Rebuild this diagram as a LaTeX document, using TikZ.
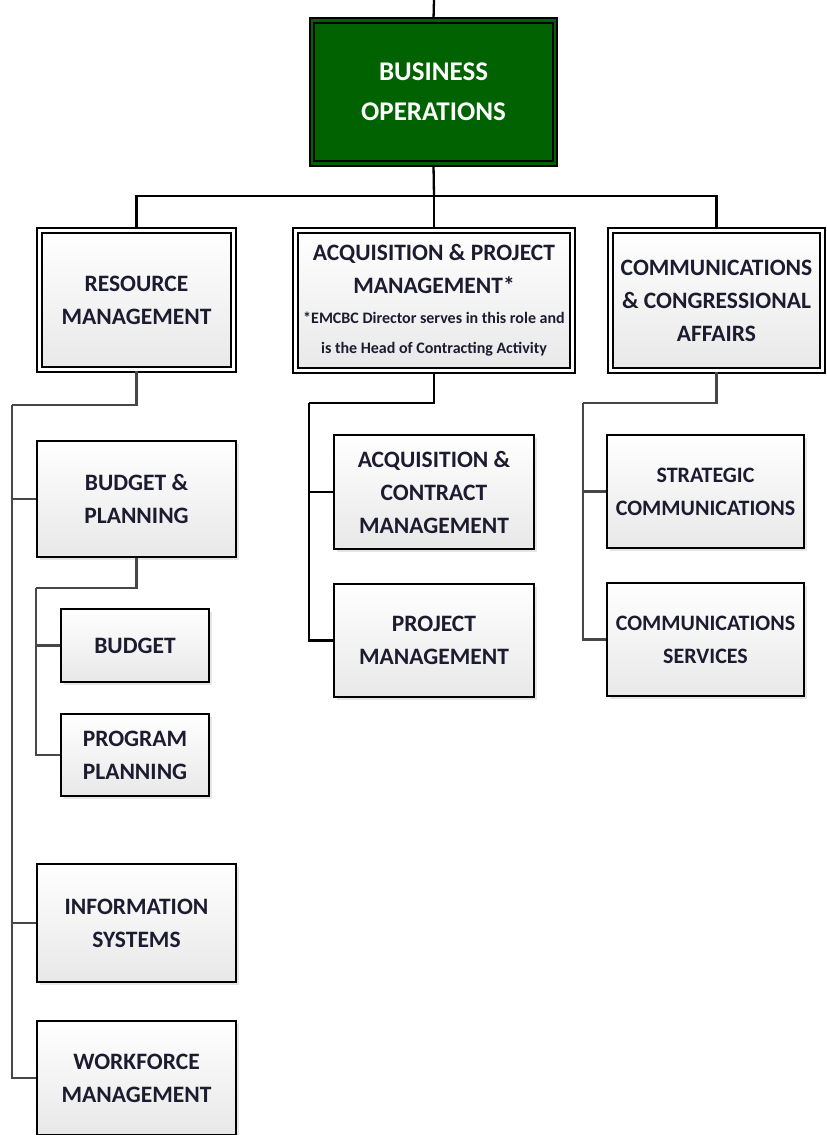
\documentclass[tikz,border=0pt]{standalone}
\usepackage{fontspec}
\setmainfont{Carlito}
\usetikzlibrary{shadows}
\definecolor{bizgreen}{RGB}{0,98,0}
\definecolor{boxtext}{RGB}{28,28,48}
\begin{document}
\begin{tikzpicture}[x=1pt,y=-1pt,
  box/.style={draw=black,line width=1.8pt,top color=white,bottom color=black!9,
    text=boxtext,align=flush center,inner sep=0pt,
    font=\bfseries\fontsize{23.5}{33}\selectfont,
    drop shadow={shadow xshift=3pt,shadow yshift=-3pt,opacity=.2}},
  unitbox/.style={box,line width=2.2pt,double=white,double distance=2.2pt},
  headbox/.style={unitbox,double=bizgreen,top color=bizgreen,bottom color=bizgreen,
    text=white,font=\bfseries\fontsize{27}{40}\selectfont},
  link/.style={draw=black,line width=2.3pt},
  sublink/.style={draw=black!72,line width=2.3pt}]
\useasboundingbox (0,0) rectangle (827,1135);
\clip (0,0) rectangle (827,1135);
% top of the chart
\node[headbox,minimum width=243pt,minimum height=143pt,text width=236pt] (bo) at (433.5,92) {BUSINESS\\OPERATIONS};
\node[unitbox,minimum width=194pt,minimum height=139pt,text width=190pt] (rm) at (136.5,300) {RESOURCE\\MANAGEMENT};
\node[unitbox,minimum width=277pt,minimum height=140pt,text width=274pt] (apm) at (434,300.5)
  {{\fontsize{23.5}{33}\selectfont ACQUISITION \& PROJECT\par MANAGEMENT*\par}%
   {\fontsize{16}{30}\selectfont *EMCBC Director serves in this role and\par is the Head of Contracting Activity\par}};
\node[unitbox,minimum width=212pt,minimum height=140pt,text width=210pt] (cca) at (716.5,300.5) {COMMUNICATIONS\\\& CONGRESSIONAL\\AFFAIRS};
% resource management units
\node[box,minimum width=199pt,minimum height=116pt,text width=197pt] (bp) at (136.5,499) {BUDGET \&\\PLANNING};
\node[box,minimum width=148pt,minimum height=73pt,text width=146pt] (bud) at (135,645.5) {BUDGET};
\node[box,minimum width=148pt,minimum height=82pt,text width=146pt] (pp) at (135,755) {PROGRAM\\PLANNING};
\node[box,minimum width=199pt,minimum height=118pt,text width=197pt] (is) at (136.5,923) {INFORMATION\\SYSTEMS};
\node[box,minimum width=199pt,minimum height=114pt,text width=197pt] (wm) at (136.5,1078) {WORKFORCE\\MANAGEMENT};
% acquisition units
\node[box,minimum width=200pt,minimum height=114pt,text width=198pt] (acm) at (434,492) {ACQUISITION \&\\CONTRACT\\MANAGEMENT};
\node[box,minimum width=200pt,minimum height=113pt,text width=198pt] (pm) at (434,640.5) {PROJECT\\MANAGEMENT};
% communications units
\node[box,minimum width=197pt,minimum height=113pt,text width=197pt,font=\bfseries\fontsize{22}{33}\selectfont] (sc) at (705.5,491.5) {STRATEGIC\\COMMUNICATIONS};
\node[box,minimum width=197pt,minimum height=113pt,text width=197pt,font=\bfseries\fontsize{22}{33}\selectfont] (cs) at (705.5,639.5) {COMMUNICATIONS\\SERVICES};
% connectors
\coordinate (top) at (434,0);
\coordinate (bus) at (434,196);
\coordinate (rmbus) at (12,405);
\coordinate (bpbus) at (36,588);
\coordinate (apmbus) at (309,403);
\coordinate (ccabus) at (583,403);
\draw[link] (top) -- (bo.north);
\draw[link] (bo.south) -- (bus);
\draw[link] (rm.north) |- (bus) -| (cca.north);
\draw[link] (bus) -- (apm.north);
\draw[sublink] (rm.south) |- (rmbus);
\draw[sublink] (rmbus) |- (bp.west);
\draw[sublink] (rmbus) |- (is.west);
\draw[sublink] (rmbus) |- (wm.west);
\draw[sublink] (bp.south) |- (bpbus);
\draw[sublink] (bpbus) |- (bud.west);
\draw[sublink] (bpbus) |- (pp.west);
\draw[link] (apm.south) |- (apmbus);
\draw[link] (apmbus) |- (acm.west);
\draw[link] (apmbus) |- (pm.west);
\draw[sublink] (cca.south) |- (ccabus);
\draw[sublink] (ccabus) |- (sc.west);
\draw[sublink] (ccabus) |- (cs.west);
\end{tikzpicture}
\end{document}
